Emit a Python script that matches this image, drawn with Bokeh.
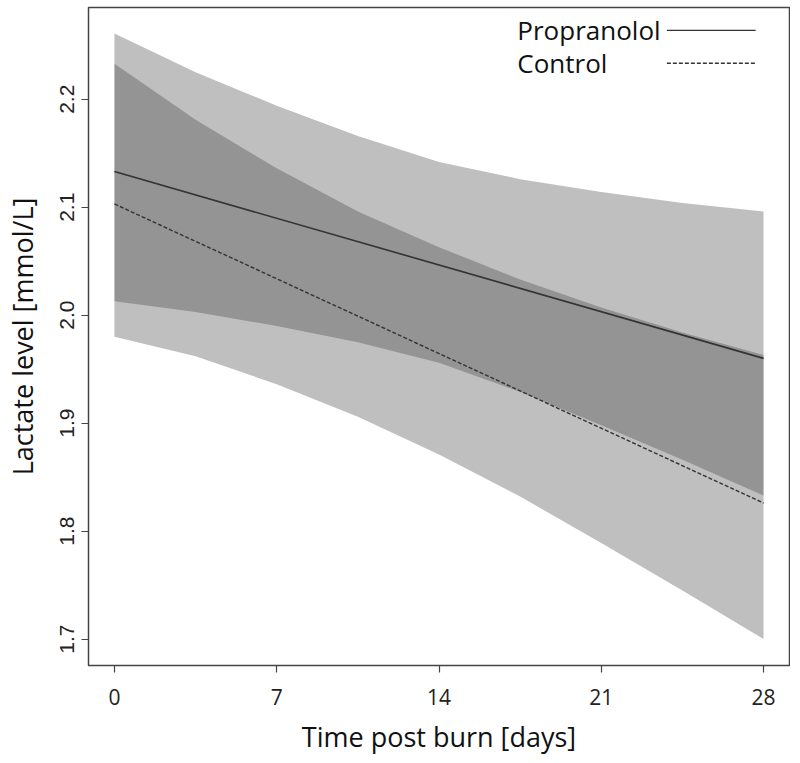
from bokeh.plotting import figure
from bokeh.models import Range1d, FixedTicker, Label, Arrow, PrintfTickFormatter
from bokeh.embed import file_html
from bokeh.resources import INLINE

# ---- data ----
days = [0, 3.5, 7, 10.5, 14, 17.5, 21, 24.5, 28]
prop_upper = [2.261, 2.225, 2.194, 2.166, 2.142, 2.126, 2.114, 2.104, 2.096]
prop_lower = [2.013, 2.003, 1.990, 1.975, 1.956, 1.929, 1.898, 1.866, 1.833]
ctrl_upper = [2.233, 2.181, 2.136, 2.096, 2.063, 2.033, 2.007, 1.984, 1.963]
ctrl_lower = [1.980, 1.962, 1.936, 1.906, 1.871, 1.832, 1.789, 1.745, 1.700]

fit_days = [0, 28]
prop_fit = [2.133, 1.960]
ctrl_fit = [2.103, 1.826]

x_ticks = [0, 7, 14, 21, 28]
y_ticks = [1.7, 1.8, 1.9, 2.0, 2.1, 2.2]

series_names = ["Propranolol", "Control"]

# ---- figure ----
p = figure(width=790, height=757, output_backend="svg", toolbar_location=None,
           x_range=Range1d(-1.12, 29.12), y_range=Range1d(1.6755, 2.285),
           min_border_left=86, min_border_right=1, min_border_top=7, min_border_bottom=90)
p.grid.visible = False
p.background_fill_color = "white"
p.border_fill_color = "white"
p.outline_line_color = "#444444"
p.outline_line_width = 1.5

band_color = "#3c3c3c"
p.varea(x=days, y1=prop_lower, y2=prop_upper, fill_color=band_color, fill_alpha=0.33)
p.varea(x=days, y1=ctrl_lower, y2=ctrl_upper, fill_color=band_color, fill_alpha=0.33)

line_color = "#333333"
p.line(fit_days, prop_fit, line_color=line_color, line_width=1.6)
p.line(fit_days, ctrl_fit, line_color=line_color, line_width=1.4, line_dash="4 2")

for ax in (p.xaxis[0], p.yaxis[0]):
    ax.axis_line_color = None
    ax.major_tick_line_color = "#444444"
    ax.major_tick_line_width = 1.2
    ax.major_tick_out = 7
    ax.major_tick_in = 0
    ax.minor_tick_line_color = None
    ax.major_label_text_color = "#222222"
    ax.axis_label_text_color = "#111111"
    ax.axis_label_text_font_style = "normal"

p.xaxis.ticker = FixedTicker(ticks=x_ticks)
p.yaxis.ticker = FixedTicker(ticks=y_ticks)
p.yaxis.formatter = PrintfTickFormatter(format="%.1f")

p.xaxis.major_label_text_font = "Open Sans"
p.xaxis.major_label_text_font_size = "21px"
p.xaxis.major_label_standoff = 16
p.xaxis.axis_label = "Time post burn [days]"
p.xaxis.axis_label_text_font = "Open Sans"
p.xaxis.axis_label_text_font_size = "27px"
p.xaxis.axis_label_standoff = 10

p.yaxis.major_label_text_font = "Liberation Sans"
p.yaxis.major_label_text_font_size = "21px"
p.yaxis.major_label_orientation = "vertical"
p.yaxis.major_label_standoff = 7
p.yaxis.axis_label = "Lactate level [mmol/L]"
p.yaxis.axis_label_text_font = "Open Sans"
p.yaxis.axis_label_text_font_size = "27px"
p.yaxis.axis_label_standoff = 17

# ---- legend (text left, line sample right, as in the reference) ----
leg_text_x = 17.38
leg_line_x0 = 23.83
leg_line_x1 = 27.66
leg_rows_y = [2.2638, 2.2333]
leg_dashes = ["solid", "4 2"]
for name, yy, dash in zip(series_names, leg_rows_y, leg_dashes):
    p.add_layout(Label(x=leg_text_x, y=yy, text=name, text_font="Open Sans",
                       text_font_size="26px", text_baseline="middle", text_align="left",
                       text_color="#111111"))
    p.add_layout(Arrow(x_start=leg_line_x0, y_start=yy, x_end=leg_line_x1, y_end=yy,
                       start=None, end=None, line_color=line_color, line_width=1.4,
                       line_dash=dash))

open("out.html", "w").write(file_html(p, INLINE))
